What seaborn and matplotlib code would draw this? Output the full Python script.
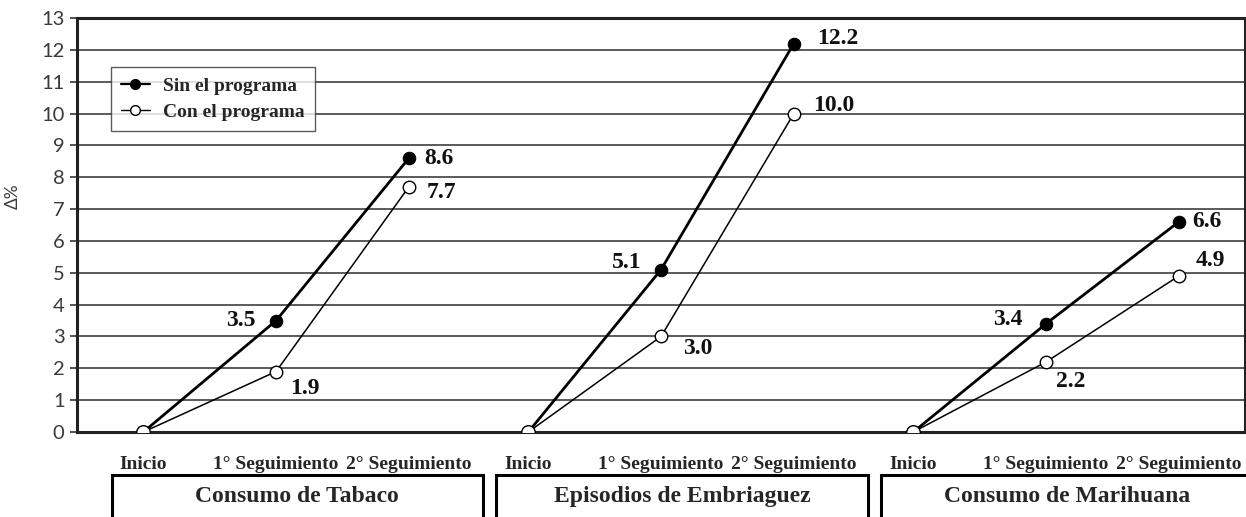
import seaborn as sns
import pandas as pd
import matplotlib.pyplot as plt
from matplotlib.lines import Line2D
from matplotlib.patches import Rectangle
import matplotlib.transforms as mtransforms

# Data
groups = ["Consumo de Tabaco", "Episodios de Embriaguez", "Consumo de Marihuana"]
stages = ["Inicio", "1° Seguimiento", "2° Seguimiento"]
series = ["Sin el programa", "Con el programa"]
sin_programa = [[0, 3.5, 8.6], [0, 5.1, 12.2], [0, 3.4, 6.6]]
con_programa = [[0, 1.9, 7.7], [0, 3.0, 10.0], [0, 2.2, 4.9]]
y_ticks = list(range(0, 14))

# label offsets (points) for the value annotations, per group / stage
sin_offsets = [[None, (-15, 0), (11, 0)], [None, (-14, 5), (17, 4)], [None, (-17, 3), (10, 0)]]
con_offsets = [[None, (10, -12), (13, -4)], [None, (16, -9), (14, 6)], [None, (7, -14), (12, 11)]]

GROUP_STEP = 2.9  # the three sub-charts sit slightly overlapped

rows = []
for g, name in enumerate(groups):
    for s, stage in enumerate(stages):
        x = g * GROUP_STEP + s
        rows.append({"group": name, "stage": stage, "x": x, "serie": series[0], "value": sin_programa[g][s]})
        rows.append({"group": name, "stage": stage, "x": x, "serie": series[1], "value": con_programa[g][s]})
df = pd.DataFrame(rows)

sns.set_style("white")
fig = plt.figure(figsize=(12.46, 5.17), dpi=100)
ax = fig.add_axes([0.0618, 0.1644, 0.9375, 0.8006])

# horizontal grid
for yv in y_ticks:
    ax.axhline(yv, color="#5a5a5a", lw=1.4, zorder=0)

sin_df = df[df["serie"] == series[0]]
con_df = df[df["serie"] == series[1]]
sns.lineplot(data=con_df, x="x", y="value", units="group", estimator=None, ax=ax,
             color="black", lw=1.1, marker="o", markersize=9, markerfacecolor="white",
             markeredgecolor="black", markeredgewidth=1.0, zorder=3)
sns.lineplot(data=sin_df, x="x", y="value", units="group", estimator=None, ax=ax,
             color="black", lw=2.0, marker="o", markersize=9, markerfacecolor="black",
             markeredgecolor="black", zorder=4)
# open circle at start covers the filled one (as in the reference)
start = con_df[con_df["stage"] == stages[0]]
sns.scatterplot(data=start, x="x", y="value", ax=ax, s=95, color="white",
                edgecolor="black", linewidth=1.0, zorder=5, legend=False)

# value labels
label_font = dict(family="Liberation Serif", weight="bold", size=17, color="#111111")
for g in range(len(groups)):
    for s in range(1, len(stages)):
        x = g * GROUP_STEP + s
        for vals, offs in ((sin_programa, sin_offsets), (con_programa, con_offsets)):
            dx, dy = offs[g][s]
            ax.annotate(f"{vals[g][s]:.1f}", (x, vals[g][s]), xytext=(dx, dy),
                        textcoords="offset points", ha="right" if dx < 0 else "left",
                        va="center", **label_font)

# axes
xmax = 2 * GROUP_STEP + 2.5
ax.set_xlim(-0.5, xmax)
ax.set_ylim(0, 13)
ax.set_yticks(y_ticks)
ax.set_yticklabels([str(v) for v in y_ticks], family="Lato", size=14.5, color="#3a3a3a")
major = [-0.5] + [g * GROUP_STEP + b for g in range(3) for b in (0.5, 1.5)]
ax.set_xticks(major)
ax.set_xticklabels([""] * len(major))
ax.set_xticks([g * GROUP_STEP + s for g in range(3) for s in range(3)], minor=True)
ax.set_xticklabels(stages * 3, minor=True, family="Liberation Serif", weight="bold", size=14)
ax.tick_params(axis="x", which="major", length=6, width=1.2, color="#333333", direction="out")
ax.tick_params(axis="x", which="minor", length=0, pad=17)
ax.tick_params(axis="y", length=5, width=1.2, color="#333333", pad=4, left=True)
ax.set_xlabel("")
ax.set_ylabel("Δ%", family="Lato", size=12.5, color="#3a3a3a", labelpad=12)
ax.yaxis.set_label_coords(-0.048, 0.57)
for side, spine in ax.spines.items():
    spine.set_visible(True)
    spine.set_color("#222222")
    spine.set_linewidth(2.2)

# legend
handles = [
    Line2D([], [], color="black", lw=1.6, marker="o", markersize=7, markerfacecolor="black"),
    Line2D([], [], color="black", lw=1.0, marker="o", markersize=7, markerfacecolor="white"),
]
leg = fig.legend(handles, series, loc="upper left", bbox_to_anchor=(0.089, 0.870),
                 borderaxespad=0, frameon=True, fancybox=False, handlelength=1.5, handletextpad=0.7,
                 borderpad=0.5, labelspacing=0.45, prop=dict(family="Liberation Serif", weight="bold", size=14))
leg.get_frame().set_edgecolor("#333333")
leg.get_frame().set_linewidth(1.0)

# group boxes below the axis
trans = mtransforms.blended_transform_factory(ax.transData, fig.transFigure)
for g, name in enumerate(groups):
    x0 = g * GROUP_STEP - 0.24
    rect = Rectangle((x0, -0.05), 2.8, 0.131, transform=trans, fill=False,
                     edgecolor="black", lw=2.2, clip_on=False)
    fig.add_artist(rect)
    fig.text(x0 + 1.4, 0.039, name, transform=trans, ha="center", va="center",
             family="Liberation Serif", weight="bold", size=17)

fig.savefig("out.png", dpi=100)
